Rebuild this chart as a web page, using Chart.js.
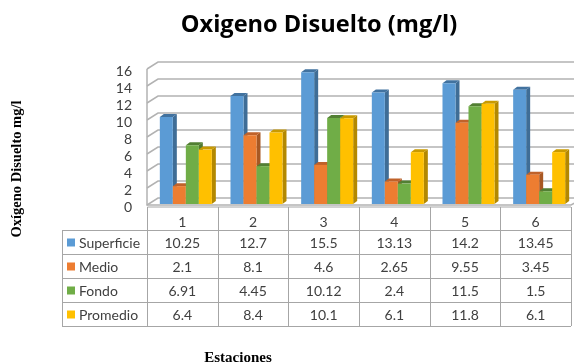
<!DOCTYPE html>
<html>
<head>
<meta charset="utf-8">
<style>
  html, body { margin: 0; padding: 0; background: #fff; overflow: hidden; }
  canvas { display: block; }
</style>
<script src="https://cdn.jsdelivr.net/npm/chart.js@4"></script>
</head>
<body>
<canvas id="chart" width="574" height="364"></canvas>
<script>
const categories = ['1', '2', '3', '4', '5', '6'];
const superficie = [10.25, 12.7, 15.5, 13.13, 14.2, 13.45];
const medio = [2.1, 8.1, 4.6, 2.65, 9.55, 3.45];
const fondo = [6.91, 4.45, 10.12, 2.4, 11.5, 1.5];
const promedio = [6.4, 8.4, 10.1, 6.1, 11.8, 6.1];
const seriesNames = ['Superficie', 'Medio', 'Fondo', 'Promedio'];
const seriesValues = [superficie, medio, fondo, promedio];

const frontColors = ['#5b9bd5', '#ed7d31', '#70ad47', '#ffc000'];
const sideColors = ['#3f6d96', '#a85823', '#4f7a32', '#b38800'];
const topColors = ['#41729f', '#c0622a', '#527f33', '#c99a00'];
const gridColor = '#b2b2b2';
const tableColor = '#a6a6a6';
const textColor = '#404040';
const labelFont = '14px Lato, sans-serif';

const wallDx = 11, wallDy = 6;   // depth of the back wall
const barDx = 4, barDy = 3;      // depth of each bar
const barShift = 3.5;            // bars sit right of the category centre

const rowY = [230, 254, 278, 302, 326];
const tableTop = 207, tableLeft = 62;

const depthPlugin = {
  id: 'depth',
  beforeDatasetsDraw(chart) {
    const { ctx, chartArea, scales: { y } } = chart;
    const wallRight = chartArea.right + 3;

    // walls
    ctx.save();
    ctx.strokeStyle = gridColor;
    ctx.lineWidth = 1.5;
    y.ticks.forEach((tick) => {
      const py = y.getPixelForValue(tick.value);
      ctx.beginPath();
      ctx.moveTo(chartArea.left, py + 1);
      ctx.lineTo(chartArea.left + wallDx, py - wallDy);
      ctx.lineTo(wallRight, py - wallDy);
      ctx.stroke();
    });
    ctx.beginPath();
    ctx.moveTo(chartArea.left, y.getPixelForValue(16) + 1);
    ctx.lineTo(chartArea.left, y.getPixelForValue(0) + 1);
    ctx.lineTo(chartArea.right, y.getPixelForValue(0) + 1);
    ctx.lineTo(chartArea.right + wallDx / 3, y.getPixelForValue(0) - 1);
    ctx.stroke();
    ctx.restore();

    // bars, left to right so each one covers the side of the one before
    ctx.save();
    ctx.translate(barShift, 0);
    seriesValues.forEach((values, i) => {
      chart.getDatasetMeta(i).data.forEach((bar) => {
        const props = bar.getProps(['x', 'y', 'base', 'width'], true);
        const left = props.x - props.width / 2;
        const right = props.x + props.width / 2;
        ctx.fillStyle = sideColors[i];
        ctx.beginPath();
        ctx.moveTo(right, props.y);
        ctx.lineTo(right + barDx, props.y - barDy);
        ctx.lineTo(right + barDx, props.base - barDy);
        ctx.lineTo(right, props.base);
        ctx.closePath();
        ctx.fill();
        ctx.fillStyle = topColors[i];
        ctx.beginPath();
        ctx.moveTo(left, props.y);
        ctx.lineTo(left + barDx, props.y - barDy);
        ctx.lineTo(right + barDx, props.y - barDy);
        ctx.lineTo(right, props.y);
        ctx.closePath();
        ctx.fill();
        bar.draw(ctx, chartArea);
      });
    });
    ctx.restore();
    return false;
  },
  afterDraw(chart) {
    const { ctx, chartArea, scales: { x } } = chart;
    const colW = (chartArea.right - chartArea.left) / categories.length;

    // data table under the axis
    ctx.save();
    ctx.strokeStyle = tableColor;
    ctx.lineWidth = 1;
    ctx.beginPath();
    ctx.moveTo(chartArea.left + 0.5, tableTop);
    ctx.lineTo(chartArea.right, tableTop);
    rowY.forEach((ry) => {
      ctx.moveTo(tableLeft, ry + 0.5);
      ctx.lineTo(chartArea.right, ry + 0.5);
    });
    ctx.moveTo(tableLeft + 0.5, rowY[0]);
    ctx.lineTo(tableLeft + 0.5, rowY[4]);
    for (let c = 0; c <= categories.length; c++) {
      const cx = Math.round(chartArea.left + c * colW) + 0.5;
      ctx.moveTo(cx, tableTop);
      ctx.lineTo(cx, rowY[4]);
    }
    ctx.stroke();

    ctx.font = labelFont;
    ctx.textBaseline = 'middle';
    seriesNames.forEach((name, i) => {
      const cy = (rowY[i] + rowY[i + 1]) / 2 + 1;
      ctx.fillStyle = frontColors[i];
      ctx.fillRect(67, cy - 4.5, 8, 8);
      ctx.fillStyle = textColor;
      ctx.textAlign = 'left';
      ctx.fillText(name, 79, cy);
      ctx.textAlign = 'center';
      seriesValues[i].forEach((v, c) => {
        ctx.fillText(String(v), x.getPixelForTick(c), cy);
      });
    });

    // titles sit off the plot centre in the reference
    ctx.fillStyle = '#000';
    ctx.textAlign = 'center';
    ctx.font = 'bold 23.6px "Open Sans", sans-serif';
    ctx.fillText('Oxigeno Disuelto (mg/l)', 319, 25);
    ctx.font = 'bold 15px "Liberation Serif", serif';
    ctx.fillText('Estaciones', 238, 358);
    ctx.font = 'bold 14.5px "Liberation Serif", serif';
    ctx.translate(17, 169);
    ctx.rotate(-Math.PI / 2);
    ctx.fillText('Oxígeno Disuelto mg/l', 0, 0);
    ctx.restore();
  }
};

new Chart(document.getElementById('chart'), {
  type: 'bar',
  data: {
    labels: categories,
    datasets: seriesValues.map((values, i) => ({
      label: seriesNames[i],
      data: values,
      backgroundColor: frontColors[i],
      borderWidth: 0,
      categoryPercentage: 0.736,
      barPercentage: 1
    }))
  },
  options: {
    responsive: false,
    animation: false,
    layout: { padding: { top: 68, right: 3, bottom: 0, left: 0 } },
    plugins: {
      legend: { display: false },
      tooltip: { enabled: false },
      title: { display: false }
    },
    scales: {
      x: {
        grid: { display: false, drawTicks: false },
        border: { display: false },
        ticks: { color: textColor, font: { family: 'Lato, sans-serif', size: 14 }, padding: 10, maxRotation: 0 },
        afterFit(scale) { scale.height = 160; }
      },
      y: {
        min: 0,
        max: 16,
        grid: { display: false, drawTicks: false },
        border: { display: false },
        ticks: { stepSize: 2, autoSkip: false, color: textColor, font: { family: 'Lato, sans-serif', size: 14 }, padding: 15, labelOffset: 3 },
        afterFit(scale) { scale.width = 147; }
      }
    }
  },
  plugins: [depthPlugin]
});
</script>
</body>
</html>
